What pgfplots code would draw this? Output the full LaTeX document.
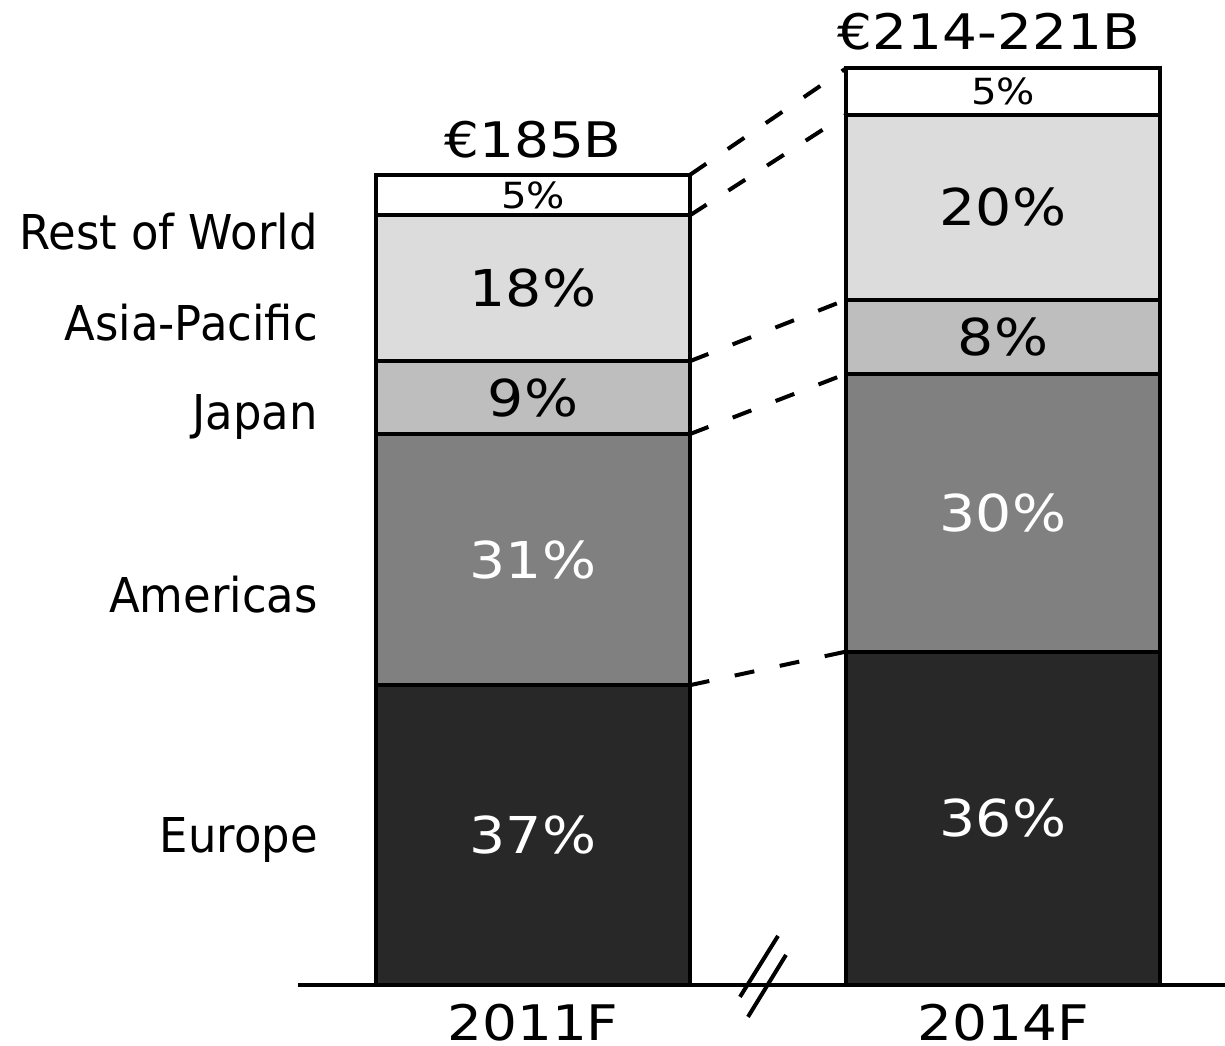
\documentclass[border=0pt]{standalone}
\usepackage{pgfplots}
\pgfplotsset{compat=1.18}
\usepackage{pgfplotstable}
\usepackage{fontspec}
% names are set slightly narrow, figures slightly wide
\setmainfont[FakeStretch=0.935]{DejaVu Sans}
\newfontfamily\figfont[FakeStretch=1.12]{DejaVu Sans}

\definecolor{europe}{HTML}{282828}
\definecolor{americas}{HTML}{808080}
\definecolor{japan}{HTML}{BEBEBE}
\definecolor{asiapac}{HTML}{DCDCDC}

% Market by region (EUR billion); p* columns hold each region's share in percent
\pgfplotstableread{
x  eu     am     jp     ap     rw      peu pam pjp pap prw
0  68.45  57.35  16.65  33.30  9.25    37  31  9   18  5
1  76.14  63.45  16.92  42.30  10.575  36  30  8   20  5
}\market

\newcommand{\namefont}{\fontsize{24}{28}\selectfont}
\newcommand{\headfont}{\figfont\fontsize{24.5}{29}\selectfont}
\newcommand{\sharefont}{\figfont\fontsize{25.4}{30}\selectfont}
\newcommand{\smallfont}{\figfont\fontsize{18}{21}\selectfont}

\tikzset{
  connector/.style={line width=2pt, dash pattern=on 10pt off 13pt},
  rowlabel/.style={font=\namefont, inner sep=0pt, anchor=base east},
  totallabel/.style={font=\headfont, inner sep=0pt, anchor=base},
}

\pgfplotsset{
  sameframe/.style={
    width=463.5pt, height=492.5pt, scale only axis,
    xmin=-0.5, xmax=1.4723, ymin=0, ymax=225,
    enlargelimits=false, clip=false,
  },
  regionbar/.style={fill=#1, draw=black, line width=2pt},
  sharelabel/.style={
    draw=none, mark=none,
    point meta=explicit,
    /pgf/number format/assume math mode=true,
    nodes near coords={\pgfmathprintnumber{\pgfplotspointmeta}\%},
    every node near coord/.append style={anchor=center, text=#1,
      font=\sharefont, inner sep=0pt},
  },
}

\begin{document}
\begin{tikzpicture}
\begin{axis}[
  sameframe,
  ybar stacked, bar width=0.667,
  axis x line*=bottom, axis y line=none,
  axis line style={line width=2pt, -},
  xtick={0,1}, xticklabels={2011F,2014F},
  xtick style={draw=none},
  xticklabel style={font=\headfont, inner sep=0pt, yshift=-9.5pt},
  ytick=\empty,
]
\addplot[regionbar=europe]   table[x=x, y=eu] {\market};
\addplot[regionbar=americas] table[x=x, y=am] {\market};
\addplot[regionbar=japan]    table[x=x, y=jp] {\market};
\addplot[regionbar=asiapac]  table[x=x, y=ap] {\market};
\addplot[regionbar=white]    table[x=x, y=rw] {\market};

% connectors between matching segment boundaries
\draw[connector] (axis cs:0.3335,68.45)  -- (axis cs:0.6665,76.14);
\draw[connector] (axis cs:0.3335,125.8)  -- (axis cs:0.6665,139.59);
\draw[connector] (axis cs:0.3335,142.45) -- (axis cs:0.6665,156.51);
\draw[connector] (axis cs:0.3335,175.75) -- (axis cs:0.6665,198.81);
\draw[connector] (axis cs:0.3335,185)    -- (axis cs:0.6665,209.385);

% axis break
\draw[line width=2pt] (axis cs:0.4404,-2.74) -- (axis cs:0.5213,11.19);
\draw[line width=2pt] (axis cs:0.4574,-7.31) -- (axis cs:0.5383,6.85);

% region names
\node[rowlabel] at (axis cs:-0.4574,167.9) {Rest of World};
\node[rowlabel] at (axis cs:-0.4574,147.3) {Asia-Pacific};
\node[rowlabel] at (axis cs:-0.4574,126.8) {Japan};
\node[rowlabel] at (axis cs:-0.4574,85.0)  {Americas};
\node[rowlabel] at (axis cs:-0.4574,30.2)  {Europe};
% totals
\node[totallabel] at (axis cs:0,189.1)     {€185B};
\node[totallabel] at (axis cs:0.970,213.6) {€214-221B};

\coordinate (bbsw) at (axis cs:-1.134,-13.93);
\coordinate (bbne) at (axis cs:1.4723,224.97);
\end{axis}

% share labels, centred in each segment
\begin{axis}[sameframe, hide axis]
\addplot[sharelabel=white] table[x=x, y expr=\thisrow{eu}/2, meta=peu] {\market};
\addplot[sharelabel=white] table[x=x, y expr=\thisrow{eu}+\thisrow{am}/2, meta=pam] {\market};
\addplot[sharelabel=black] table[x=x, y expr=\thisrow{eu}+\thisrow{am}+\thisrow{jp}/2, meta=pjp] {\market};
\addplot[sharelabel=black] table[x=x, y expr=\thisrow{eu}+\thisrow{am}+\thisrow{jp}+\thisrow{ap}/2, meta=pap] {\market};
\addplot[sharelabel=black, every node near coord/.append style={font=\smallfont}]
  table[x=x, y expr=\thisrow{eu}+\thisrow{am}+\thisrow{jp}+\thisrow{ap}+\thisrow{rw}/2, meta=prw] {\market};
\end{axis}

\pgfresetboundingbox
\path[use as bounding box] (bbsw) rectangle (bbne);
\end{tikzpicture}
\end{document}
